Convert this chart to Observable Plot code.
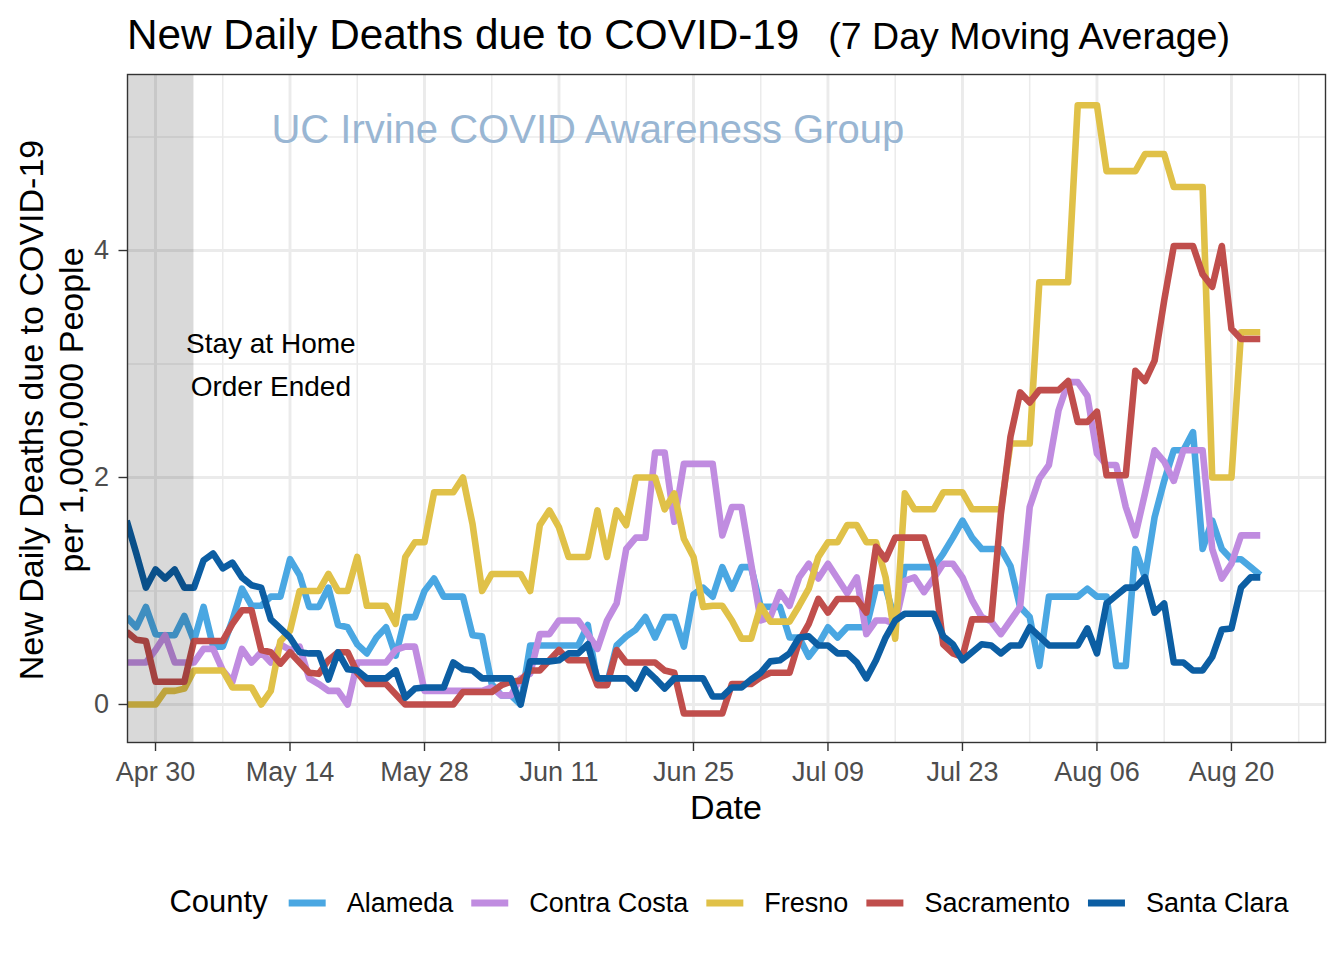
<!DOCTYPE html>
<html>
<head>
<meta charset="utf-8">
<script src="https://cdn.jsdelivr.net/npm/d3@7"></script>
<script src="https://cdn.jsdelivr.net/npm/@observablehq/plot@0.6"></script>
<style>
html, body { margin: 0; padding: 0; background: #fff; }
#wrap { position: relative; width: 1344px; height: 960px; overflow: hidden; }
#wrap svg { position: absolute; left: 0; top: 0; }
</style>
</head>
<body>
<div id="wrap"></div>
<script>
// ---------------- data ----------------
const counties = ["Alameda", "Contra Costa", "Fresno", "Sacramento", "Santa Clara"];
const countyColors = ["#4AA7E2", "#C08CE0", "#E0C148", "#C04E4C", "#0C5EA3"];
const firstDate = "2020-04-27"; // one value per day from here

const alameda = [
  0.77, 0.68, 0.86, 0.62, 0.61, 0.61, 0.78, 0.56, 0.86, 0.51,
  0.51, 0.74, 1.02, 0.87, 0.87, 0.95, 0.95, 1.28, 1.14, 0.86,
  0.86, 1.03, 0.70, 0.68, 0.53, 0.45, 0.59, 0.68, 0.43, 0.77,
  0.77, 1.00, 1.11, 0.95, 0.95, 0.95, 0.61, 0.60, 0.18, 0.08,
  0.08, 0.00, 0.52, 0.52, 0.52, 0.52, 0.52, 0.52, 0.70, 0.18,
  0.18, 0.52, 0.60, 0.66, 0.77, 0.59, 0.77, 0.77, 0.51, 0.97,
  1.03, 0.95, 1.21, 1.02, 1.21, 1.21, 0.86, 0.86, 0.86, 0.59,
  0.59, 0.42, 0.53, 0.68, 0.59, 0.68, 0.68, 0.68, 1.03, 1.03,
  0.74, 1.21, 1.21, 1.21, 1.21, 1.33, 1.47, 1.62, 1.47, 1.37,
  1.37, 1.37, 1.22, 0.86, 0.77, 0.34, 0.95, 0.95, 0.95, 0.95,
  1.02, 0.95, 0.95, 0.34, 0.34, 1.37, 1.12, 1.65, 1.97, 2.24,
  2.24, 2.40, 1.37, 1.62, 1.37, 1.28, 1.28, 1.21, 1.14
];
const contraCosta = [
  0.37, 0.37, 0.37, 0.48, 0.61, 0.37, 0.37, 0.37, 0.49, 0.49,
  0.30, 0.20, 0.49, 0.37, 0.46, 0.37, 0.53, 0.48, 0.51, 0.23,
  0.18, 0.12, 0.12, 0.00, 0.37, 0.37, 0.37, 0.37, 0.48, 0.51,
  0.51, 0.12, 0.12, 0.12, 0.12, 0.12, 0.12, 0.12, 0.15, 0.08,
  0.08, 0.23, 0.27, 0.62, 0.62, 0.74, 0.74, 0.74, 0.62, 0.49,
  0.74, 0.89, 1.37, 1.47, 1.47, 2.22, 2.22, 1.61, 2.12, 2.12,
  2.12, 2.12, 1.49, 1.74, 1.74, 1.24, 0.74, 0.77, 0.99, 0.87,
  1.12, 1.24, 1.11, 1.24, 1.11, 0.98, 1.12, 0.62, 0.74, 0.74,
  0.71, 1.09, 1.12, 0.99, 1.11, 1.24, 1.24, 1.12, 0.92, 0.77,
  0.73, 0.62, 0.74, 0.86, 1.74, 1.99, 2.11, 2.59, 2.84, 2.84,
  2.72, 2.21, 2.11, 2.11, 1.74, 1.49, 1.86, 2.24, 2.14, 1.97,
  2.24, 2.24, 2.24, 1.37, 1.11, 1.24, 1.49, 1.49, 1.49
];
const fresno = [
  0.00, 0.00, 0.00, 0.00, 0.12, 0.12, 0.14, 0.30, 0.30, 0.30,
  0.30, 0.15, 0.15, 0.15, 0.00, 0.12, 0.56, 0.65, 1.00, 1.00,
  1.00, 1.15, 1.00, 1.00, 1.30, 0.87, 0.87, 0.87, 0.71, 1.30,
  1.43, 1.43, 1.87, 1.87, 1.87, 2.00, 1.59, 1.00, 1.15, 1.15,
  1.15, 1.15, 1.00, 1.58, 1.71, 1.56, 1.30, 1.30, 1.30, 1.71,
  1.30, 1.71, 1.58, 2.00, 2.00, 2.00, 1.72, 1.86, 1.46, 1.30,
  0.86, 0.87, 0.87, 0.74, 0.58, 0.58, 0.87, 0.73, 0.73, 0.73,
  0.87, 1.02, 1.30, 1.43, 1.43, 1.58, 1.58, 1.43, 1.43, 1.12,
  0.58, 1.86, 1.72, 1.72, 1.72, 1.87, 1.87, 1.87, 1.72, 1.72,
  1.72, 1.72, 2.30, 2.30, 2.30, 3.72, 3.72, 3.72, 3.72, 5.28,
  5.28, 5.28, 4.70, 4.70, 4.70, 4.70, 4.85, 4.85, 4.85, 4.56,
  4.56, 4.56, 4.56, 2.00, 2.00, 2.00, 3.28, 3.28, 3.28
];
const sacramento = [
  0.64, 0.57, 0.56, 0.20, 0.20, 0.20, 0.20, 0.56, 0.56, 0.56,
  0.56, 0.71, 0.83, 0.83, 0.48, 0.46, 0.36, 0.46, 0.37, 0.28,
  0.27, 0.39, 0.46, 0.46, 0.28, 0.18, 0.18, 0.18, 0.09, 0.00,
  0.00, 0.00, 0.00, 0.00, 0.00, 0.11, 0.11, 0.11, 0.11, 0.17,
  0.20, 0.21, 0.30, 0.30, 0.39, 0.48, 0.39, 0.39, 0.39, 0.17,
  0.17, 0.48, 0.37, 0.37, 0.37, 0.37, 0.30, 0.28, -0.08, -0.08,
  -0.08, -0.08, -0.08, 0.18, 0.18, 0.18, 0.24, 0.28, 0.28, 0.28,
  0.56, 0.71, 0.93, 0.81, 0.93, 0.93, 0.93, 0.81, 1.39, 1.28,
  1.47, 1.47, 1.47, 1.47, 1.21, 0.53, 0.45, 0.42, 0.75, 0.75,
  0.75, 1.68, 2.36, 2.75, 2.66, 2.77, 2.77, 2.77, 2.85, 2.49,
  2.49, 2.58, 2.02, 2.02, 2.02, 2.94, 2.85, 3.03, 3.56, 4.04,
  4.04, 4.04, 3.79, 3.68, 4.04, 3.31, 3.22, 3.22, 3.22
];
const santaClara = [
  1.62, 1.33, 1.03, 1.19, 1.11, 1.19, 1.03, 1.03, 1.27, 1.33,
  1.20, 1.25, 1.12, 1.05, 1.03, 0.75, 0.67, 0.59, 0.46, 0.45,
  0.45, 0.22, 0.46, 0.31, 0.30, 0.23, 0.23, 0.23, 0.30, 0.06,
  0.14, 0.15, 0.15, 0.15, 0.37, 0.31, 0.30, 0.23, 0.23, 0.23,
  0.23, 0.00, 0.38, 0.38, 0.38, 0.39, 0.45, 0.45, 0.53, 0.23,
  0.23, 0.23, 0.23, 0.14, 0.31, 0.23, 0.14, 0.23, 0.23, 0.23,
  0.23, 0.07, 0.07, 0.15, 0.15, 0.22, 0.28, 0.38, 0.39, 0.45,
  0.59, 0.60, 0.52, 0.52, 0.45, 0.45, 0.37, 0.23, 0.39, 0.59,
  0.74, 0.80, 0.80, 0.80, 0.80, 0.60, 0.53, 0.39, 0.46, 0.53,
  0.52, 0.45, 0.52, 0.52, 0.68, 0.60, 0.52, 0.52, 0.52, 0.52,
  0.67, 0.45, 0.89, 0.96, 1.03, 1.03, 1.12, 0.81, 0.89, 0.37,
  0.37, 0.30, 0.30, 0.42, 0.66, 0.67, 1.03, 1.12, 1.12
];

const xMajorTicks = ["2020-04-30", "2020-05-14", "2020-05-28", "2020-06-11", "2020-06-25", "2020-07-09", "2020-07-23", "2020-08-06", "2020-08-20"];
const xMinorTicks = ["2020-05-07", "2020-05-21", "2020-06-04", "2020-06-18", "2020-07-02", "2020-07-16", "2020-07-30", "2020-08-13", "2020-08-27"];
const yMajorTicks = [0, 2, 4];
const yMinorTicks = [1, 3, 5];

const stayHomeShade = [{start: "2020-04-20", end: "2020-05-04"}];
const stayHomeNote = [{date: "2020-05-12", value: 3.03, label: "Stay at Home\nOrder Ended"}];
const watermark = [{date: "2020-06-14", value: 5.06, label: "UC Irvine COVID Awareness Group"}];

const titleMain = "New Daily Deaths due to COVID-19";
const titleSub = "(7 Day Moving Average)";
const xTitle = "Date";
const yTitleLines = ["New Daily Deaths due to COVID-19", "per 1,000,000 People"];
const legendTitle = "County";

// ---------------- build table ----------------
const seriesList = [alameda, contraCosta, fresno, sacramento, santaClara];
const start = new Date(firstDate + "T00:00:00Z");
const rows = [];
counties.forEach((c, i) => {
  seriesList[i].forEach((v, j) => rows.push({county: c, date: d3.utcDay.offset(start, j), value: v}));
});
const toDate = (s) => new Date(s + "T00:00:00Z");

const FONT = '"Liberation Sans", Arial, Helvetica, sans-serif';
const grid = "#EBEBEB";

const chart = Plot.plot({
  width: 1344,
  height: 960,
  marginLeft: 127,
  marginRight: 19,
  marginTop: 74,
  marginBottom: 218,
  style: {fontFamily: FONT, fontSize: "27px", background: "transparent", overflow: "visible"},
  x: {type: "utc", domain: [new Date("2020-04-27T02:00:00Z"), new Date("2020-08-29T19:00:00Z")]},
  y: {domain: [-0.335, 5.551]},
  color: {domain: counties, range: countyColors},
  marks: [
    Plot.ruleY(yMinorTicks, {stroke: grid, strokeWidth: 1.5}),
    Plot.ruleX(xMinorTicks.map(toDate), {stroke: grid, strokeWidth: 1.5}),
    Plot.ruleY(yMajorTicks, {stroke: grid, strokeWidth: 2.9}),
    Plot.ruleX(xMajorTicks.map(toDate), {stroke: grid, strokeWidth: 2.9}),
    Plot.text(watermark, {x: d => toDate(d.date), y: "value", text: "label", fill: "#99B6D3", fontSize: 40}),
    Plot.lineY(rows, {x: "date", y: "value", z: "county", stroke: "county", strokeWidth: 6.6,
      strokeLinejoin: "round", strokeLinecap: "butt", clip: true}),
    Plot.rect(stayHomeShade, {x1: d => toDate(d.start), x2: d => toDate(d.end), fill: "#000", fillOpacity: 0.15, clip: true}),
    Plot.text(stayHomeNote, {x: d => toDate(d.date), y: "value", text: "label", fill: "#000", fontSize: 28, lineHeight: 1.536}),
    Plot.frame({stroke: "#333333", strokeWidth: 1.4}),
    Plot.axisX(xMajorTicks.map(toDate), {tickFormat: d3.utcFormat("%b %d"), tickSize: 9, tickPadding: 10,
      stroke: "#333333", strokeWidth: 1.4, fill: "#4D4D4D", fontSize: 27, label: null}),
    Plot.axisY(yMajorTicks, {tickFormat: d3.format("d"), tickSize: 8.5, tickPadding: 10, stroke: "#333333", strokeWidth: 1.4,
      fill: "#4D4D4D", fontSize: 27, label: null})
  ]
});

const wrap = document.getElementById("wrap");
wrap.appendChild(chart);

// ---------------- titles & legend ----------------
const over = d3.select(wrap).append("svg")
  .attr("width", 1344).attr("height", 960)
  .style("font-family", FONT)
  .style("pointer-events", "none");

const t = over.append("text").attr("x", 127).attr("y", 48.5).attr("fill", "#000");
t.append("tspan").attr("font-size", 42.3).text(titleMain);
t.append("tspan").attr("font-size", 37.5).attr("dx", 29).text(titleSub);

over.append("text").attr("x", 726).attr("y", 819).attr("text-anchor", "middle")
  .attr("font-size", 34).attr("fill", "#000").text(xTitle);

const yt = over.append("g").attr("transform", "translate(0,410) rotate(-90)");
yTitleLines.forEach((line, i) => {
  yt.append("text").attr("x", 0).attr("y", 43.3 + i * 39.7).attr("text-anchor", "middle")
    .attr("font-size", 34).attr("fill", "#000").text(line);
});

// legend laid out from measured text widths, centred under the panel
const lg = over.append("g");
const legBaseline = 912;
const keyY = 903;
const titleEl = lg.append("text").attr("y", legBaseline).attr("font-size", 31).attr("fill", "#000").text(legendTitle);
const titleW = titleEl.node().getComputedTextLength();
const items = counties.map((c, i) => {
  const el = lg.append("text").attr("y", legBaseline).attr("font-size", 27).attr("fill", "#000").text(c);
  return {el, w: el.node().getComputedTextLength(), color: countyColors[i]};
});
const keyW = 37, gapTitleKey = 21, gapKeyLabel = 21, gapItem = 18;
let total = titleW + gapTitleKey;
items.forEach((it, i) => { total += keyW + gapKeyLabel + it.w + (i < items.length - 1 ? gapItem : 0); });
let cx = 729 - total / 2;
titleEl.attr("x", cx);
cx += titleW + gapTitleKey;
items.forEach((it) => {
  lg.append("line").attr("x1", cx).attr("x2", cx + keyW).attr("y1", keyY).attr("y2", keyY)
    .attr("stroke", it.color).attr("stroke-width", 7);
  cx += keyW + gapKeyLabel;
  it.el.attr("x", cx);
  cx += it.w + gapItem;
});
</script>
</body>
</html>
